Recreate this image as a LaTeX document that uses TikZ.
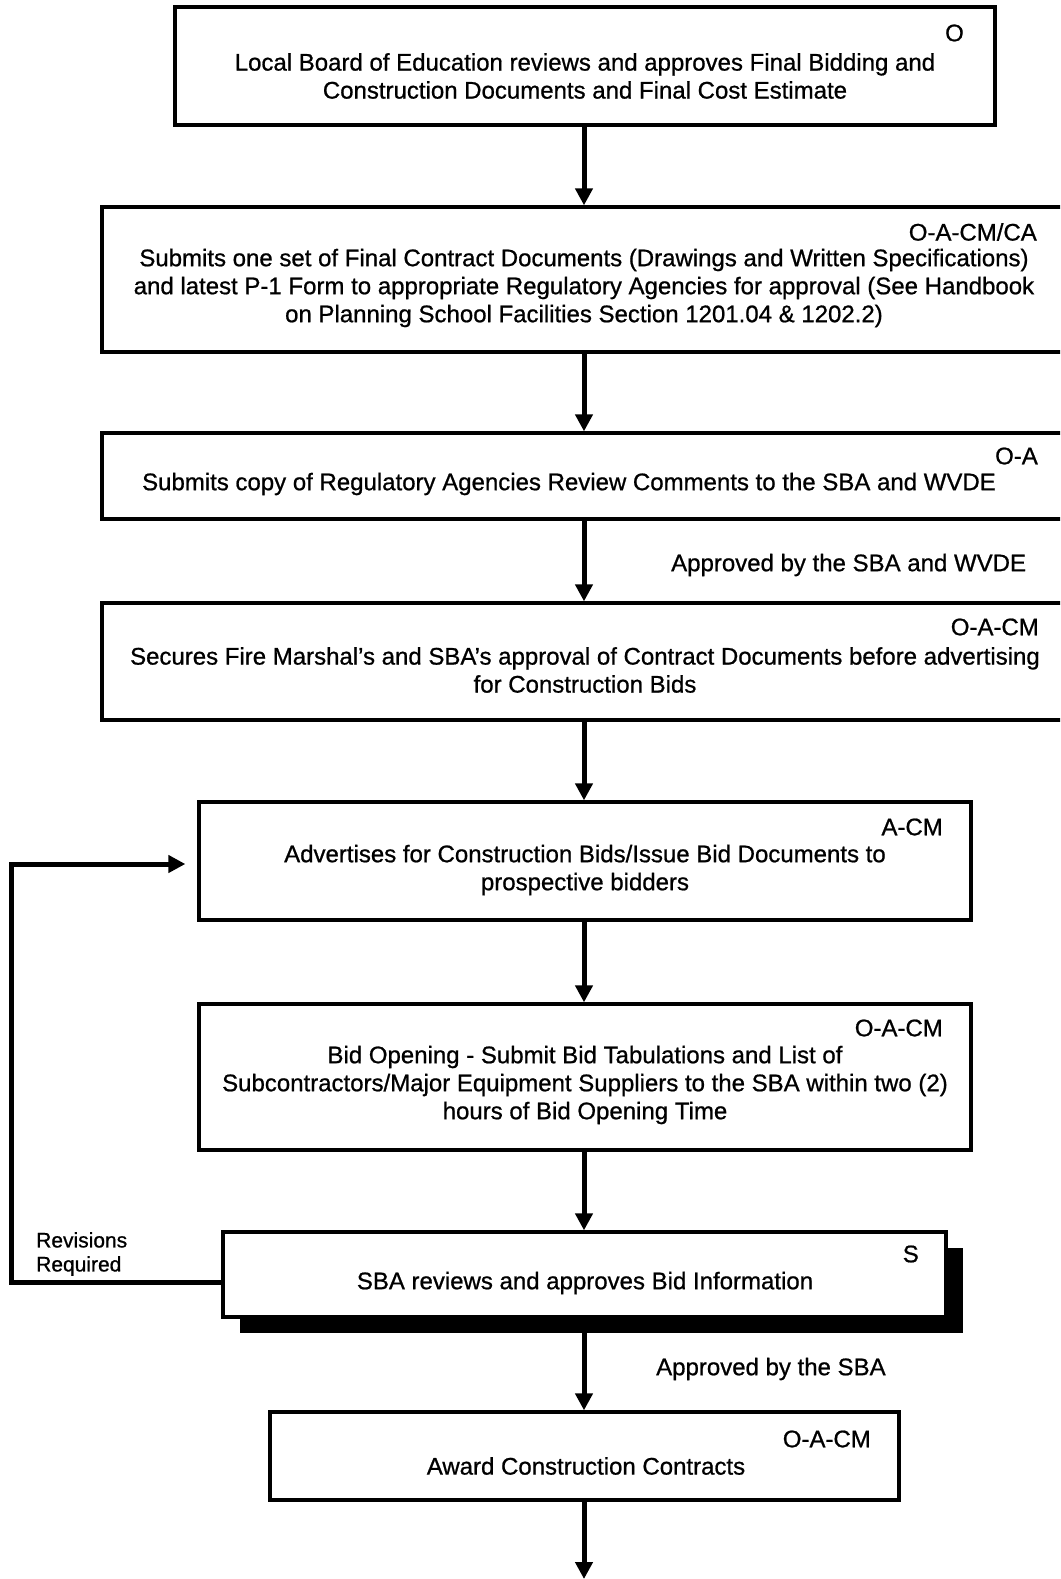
\documentclass[tikz,border=0pt]{standalone}
\usepackage{fontspec}
\setmainfont[FakeBold=0.8]{Liberation Sans}
\usetikzlibrary{arrows.meta,shadows}
\begin{document}
\begin{tikzpicture}[x=1pt,y=-1pt,
  box/.style={draw,line width=3.3pt,fill=white,inner sep=0pt},
  shadowbox/.style={box,drop shadow={shadow xshift=17pt,shadow yshift=-16pt,fill=black,opacity=1}},
  body/.style={inner sep=0pt,align=center,font=\fontsize{24}{28}\selectfont},
  tag/.style={inner sep=0pt,anchor=east,font=\fontsize{24}{28}\selectfont},
  note/.style={inner sep=0pt,anchor=west,align=left,font=\fontsize{24}{28}\selectfont},
  flow/.style={line width=5pt,-{Triangle[length=17pt,width=17pt]}},
]
\useasboundingbox (0,0) rectangle (1060,1579);
\clip (0,0) rectangle (1060,1579);

% process boxes
\node[box,minimum width=820pt,minimum height=118pt] (b1) at (585,66) {};
\node[box,minimum width=978pt,minimum height=145pt] (b2) at (591,279.5) {};
\node[box,minimum width=978pt,minimum height=86pt]  (b3) at (591,476) {};
\node[box,minimum width=978pt,minimum height=117pt] (b4) at (591,661.5) {};
\node[box,minimum width=772pt,minimum height=118pt] (b5) at (585,861) {};
\node[box,minimum width=772pt,minimum height=146pt] (b6) at (585,1077) {};
\node[shadowbox,minimum width=723pt,minimum height=85pt] (b7) at (584.5,1274.5) {};
\node[box,minimum width=629pt,minimum height=88pt]  (b8) at (584.5,1456) {};

% box texts
\node[body] (t1) at (585,76) {Local Board of Education reviews and approves Final Bidding and\\Construction Documents and Final Cost Estimate};
\node[body] (t2) at (584,288) {Submits one set of Final Contract Documents (Drawings and Written Specifications)\\and latest P-1 Form to appropriate Regulatory Agencies for approval (See Handbook\\on Planning School Facilities Section 1201.04 \& 1202.2)};
\node[body] (t3) at (569,484) {Submits copy of Regulatory Agencies Review Comments to the SBA and WVDE};
\node[body] (t4) at (585,670) {Secures Fire Marshal's and SBA's approval of Contract Documents before advertising\\for Construction Bids};
\node[body] (t5) at (585,870) {Advertises for Construction Bids/Issue Bid Documents to\\prospective bidders};
\node[body] (t6) at (585,1085) {Bid Opening - Submit Bid Tabulations and List of\\Subcontractors/Major Equipment Suppliers to the SBA within two (2)\\hours of Bid Opening Time};
\node[body] (t7) at (585,1283) {SBA reviews and approves Bid Information};
\node[body] (t8) at (586,1466) {Award Construction Contracts};

% responsibility tags
\node[tag] (g1) at (964,33) {O};
\node[tag] (g2) at (1037,232) {O-A-CM/CA};
\node[tag] (g3) at (1038,456) {O-A};
\node[tag] (g4) at (1039,627) {O-A-CM};
\node[tag] (g5) at (943,827) {A-CM};
\node[tag] (g6) at (943,1028) {O-A-CM};
\node[tag] (g7) at (919,1254) {S};
\node[tag] (g8) at (871,1439) {O-A-CM};

% connector labels
\node[note] (n1) at (671,565) {Approved by the SBA and WVDE};
\node[note] (n2) at (656,1369) {Approved by the SBA};
\node[note,font=\fontsize{21}{24}\selectfont] (n3) at (36,1254) {Revisions\\Required};

% main flow
\coordinate (axis) at (584,0);
\coordinate (end) at (584,1579);
\draw[flow] (axis |- b1.south) -- (axis |- b2.north);
\draw[flow] (axis |- b2.south) -- (axis |- b3.north);
\draw[flow] (axis |- b3.south) -- (axis |- b4.north);
\draw[flow] (axis |- b4.south) -- (axis |- b5.north);
\draw[flow] (axis |- b5.south) -- (axis |- b6.north);
\draw[flow] (axis |- b6.south) -- (axis |- b7.north);
\draw[flow] (axis |- b7.south) -- (axis |- b8.north);
\draw[flow] (axis |- b8.south) -- (end);

% revision loop
\coordinate (loopstart) at ([yshift=-8pt]b7.west);
\coordinate (loopend) at ([xshift=-12pt,yshift=-3pt]b5.west);
\draw[flow] (loopstart) -- (11,0 |- loopstart) -- (11,0 |- loopend) -- (loopend);
\end{tikzpicture}
\end{document}
